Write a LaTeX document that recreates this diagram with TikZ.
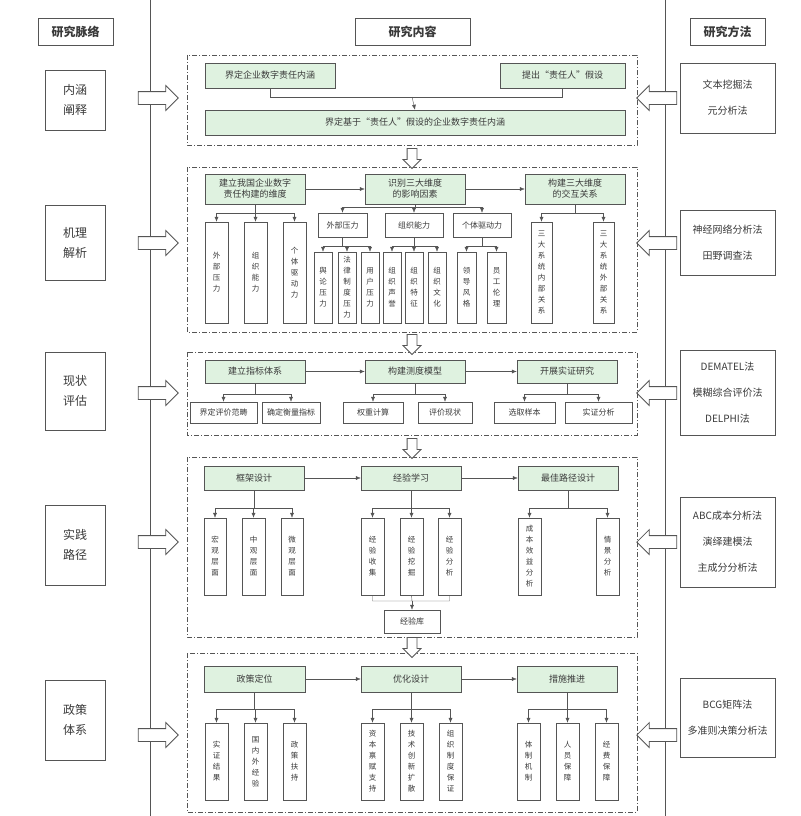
\documentclass[tikz,border=0pt]{standalone}
\usepackage{fontspec}
\setmainfont{Noto Sans CJK SC}
\usetikzlibrary{shapes.arrows,calc,arrows.meta}
\XeTeXlinebreaklocale "zh"
\XeTeXlinebreakskip=0pt plus 1pt
\definecolor{gfill}{HTML}{DFF2E0}
\definecolor{ln}{HTML}{555555}
\definecolor{tx}{HTML}{3A3A3A}
\newcommand\bx[7][]{\node[#1,minimum width={(#5-#3)*1pt},minimum height={(#6-#4)*1pt}] (#2) at ({(#3+#5)/2},{(#4+#6)/2}) {#7};}
\begin{document}
\begin{tikzpicture}[x=1pt,y=-1pt,
  every node/.style={text=tx},
  top/.style={draw=ln,fill=gfill,inner sep=1pt,align=center,font=\fontsize{9}{11}\selectfont},
  mid/.style={draw=ln,fill=white,inner sep=1pt,align=center,font=\fontsize{8}{10}\selectfont},
  leaf/.style={draw=ln,fill=white,inner sep=0pt,text width=8pt,align=center,font=\fontsize{7.5}{11}\selectfont},
  side/.style={draw=ln,fill=white,thick,align=center,font=\fontsize{12}{20}\selectfont},
  meth/.style={draw=ln,fill=white,thick,align=center,font=\fontsize{10}{26}\selectfont},
  head/.style={draw=ln,fill=white,thick,font=\bfseries\fontsize{12}{14}\selectfont},
  sec/.style={draw=ln,dash pattern=on 5pt off 2pt on 1pt off 2pt},
  arr/.style={draw=ln,-{Latex[length=5pt,width=4pt]}},
  ha/.style={single arrow,draw=ln,fill=white,thick,minimum height=40pt,inner sep=6pt,single arrow head extend=6pt,single arrow tip angle=90},
  da/.style={single arrow,draw=ln,fill=white,thick,minimum height=20pt,inner sep=4.5pt,single arrow head extend=4pt,single arrow tip angle=90,shape border rotate=270},
]
\useasboundingbox (0,0) rectangle (800,816);
\draw[ln,thick] (150,0) -- (150,816) (665,0) -- (665,816);
% headers
\bx[head]{h1}{38}{18}{113}{45}{研究脉络}
\bx[head]{h2}{355}{18}{470}{45}{研究内容}
\bx[head]{h3}{690}{18}{765}{45}{研究方法}
% left
\bx[side]{s1}{45}{70}{105}{130}{内涵\\阐释}
\bx[side]{s2}{45}{205}{105}{280}{机理\\解析}
\bx[side]{s3}{45}{352}{105}{430}{现状\\评估}
\bx[side]{s4}{45}{505}{105}{585}{实践\\路径}
\bx[side]{s5}{45}{680}{105}{760}{政策\\体系}
% right
\bx[meth]{m1}{680}{63}{775}{133}{文本挖掘法\\元分析法}
\bx[meth]{m2}{680}{210}{775}{275}{神经网络分析法\\田野调查法}
\bx[meth]{m3}{680}{350}{775}{435}{DEMATEL法\\模糊综合评价法\\DELPHI法}
\bx[meth]{m4}{680}{497}{775}{587}{ABC成本分析法\\演绎建模法\\主成分分析法}
\bx[meth]{m5}{680}{678}{775}{757}{BCG矩阵法\\多准则决策分析法}
% side arrows
\foreach \y/\n in {98/1,243/2,393/3,542/4,735/5}{
 \node[ha] (la\n) at (155,\y) {};
 \node[ha,shape border rotate=180] (ra\n) at (660,\y) {};
}
% sections
\draw[sec] (187,55) rectangle (637,145);
\draw[sec] (187,167) rectangle (637,332);
\draw[sec] (187,352) rectangle (637,435);
\draw[sec] (187,457) rectangle (637,637);
\draw[sec] (187,653) rectangle (637,812);
\foreach \y/\n in {156/1,342/2,446/3,645/4}{\node[da] (dn\n) at (412,\y) {};}
% section 1
\bx[top]{a1}{205}{63}{335}{88}{界定企业数字责任内涵}
\bx[top]{a2}{500}{63}{625}{88}{提出“责任人”假设}
\bx[top]{a3}{205}{110}{625}{135}{界定基于“责任人”假设的企业数字责任内涵}
\coordinate (j1) at (412,97);
\draw[ln] (a1.south) |- (j1) (a2.south) |- (j1);
\draw[arr] (j1) -- (a3.north);
% section 2
\bx[top]{b1}{205}{174}{305}{204}{建立我国企业数字\\责任构建的维度}
\bx[top]{b2}{365}{174}{465}{204}{识别三大维度\\的影响因素}
\bx[top]{b3}{525}{174}{625}{204}{构建三大维度\\的交互关系}
\draw[arr] (b1) -- (b2); \draw[arr] (b2) -- (b3);
\bx[leaf]{c1}{205}{222}{228}{323}{外部压力}
\bx[leaf]{c2}{244}{222}{267}{323}{组织能力}
\bx[leaf]{c3}{283}{222}{306}{323}{个体驱动力}
\foreach \c in {c1,c2,c3}{\draw[arr] (b1.south) |- ([yshift=9pt]\c.north) -- (\c.north);}
\bx[mid]{d1}{318}{213}{367}{237}{外部压力}
\bx[mid]{d2}{385}{213}{443}{237}{组织能力}
\bx[mid]{d3}{453}{213}{511}{237}{个体驱动力}
\foreach \c in {d1,d2,d3}{\draw[arr] (b2.south) |- ([yshift=6pt]\c.north) -- (\c.north);}
\bx[leaf]{e1}{314}{252}{332}{323}{舆论压力}
\bx[leaf]{e2}{338}{252}{356}{323}{法律制度压力}
\bx[leaf]{e3}{361}{252}{379}{323}{用户压力}
\bx[leaf]{e4}{383}{252}{401}{323}{组织声誉}
\bx[leaf]{e5}{405}{252}{423}{323}{组织特征}
\bx[leaf]{e6}{428}{252}{446}{323}{组织文化}
\bx[leaf]{e7}{457}{252}{476}{323}{领导风格}
\bx[leaf]{e8}{487}{252}{506}{323}{员工伦理}
\foreach \c in {e1,e2,e3}{\draw[arr] (d1.south) |- ([yshift=6pt]\c.north) -- (\c.north);}
\foreach \c in {e4,e5,e6}{\draw[arr] (d2.south) |- ([yshift=6pt]\c.north) -- (\c.north);}
\foreach \c in {e7,e8}{\draw[arr] (d3.south) |- ([yshift=6pt]\c.north) -- (\c.north);}
\bx[leaf]{f1}{531}{222}{552}{323}{三大系统内部关系}
\bx[leaf]{f2}{593}{222}{614}{323}{三大系统外部关系}
\foreach \c in {f1,f2}{\draw[arr] (b3.south) |- ([yshift=9pt]\c.north) -- (\c.north);}
% section 3
\bx[top]{g1}{205}{360}{305}{383}{建立指标体系}
\bx[top]{g2}{365}{360}{465}{383}{构建测度模型}
\bx[top]{g3}{517}{360}{617}{383}{开展实证研究}
\draw[arr] (g1) -- (g2); \draw[arr] (g2) -- (g3);
\bx[mid]{k1}{190}{402}{257}{423}{界定评价范畴}
\bx[mid]{k2}{262}{402}{320}{423}{确定衡量指标}
\bx[mid]{k3}{343}{402}{403}{423}{权重计算}
\bx[mid]{k4}{418}{402}{472}{423}{评价现状}
\bx[mid]{k5}{494}{402}{555}{423}{选取样本}
\bx[mid]{k6}{565}{402}{632}{423}{实证分析}
\foreach \c in {k1,k2}{\draw[arr] (g1.south) |- ([yshift=8pt]\c.north) -- (\c.north);}
\foreach \c in {k3,k4}{\draw[arr] (g2.south) |- ([yshift=8pt]\c.north) -- (\c.north);}
\foreach \c in {k5,k6}{\draw[arr] (g3.south) |- ([yshift=8pt]\c.north) -- (\c.north);}
% section 4
\bx[top]{p1}{204}{466}{304}{490}{框架设计}
\bx[top]{p2}{361}{466}{461}{490}{经验学习}
\bx[top]{p3}{518}{466}{618}{490}{最佳路径设计}
\draw[arr] (p1) -- (p2); \draw[arr] (p2) -- (p3);
\bx[leaf]{q1}{204}{518}{226}{595}{宏观层面}
\bx[leaf]{q2}{242}{518}{265}{595}{中观层面}
\bx[leaf]{q3}{281}{518}{303}{595}{微观层面}
\bx[leaf]{q4}{361}{518}{384}{595}{经验收集}
\bx[leaf]{q5}{400}{518}{423}{595}{经验挖掘}
\bx[leaf]{q6}{438}{518}{461}{595}{经验分析}
\bx[leaf]{q7}{518}{518}{541}{595}{成本效益分析}
\bx[leaf]{q8}{596}{518}{619}{595}{情景分析}
\foreach \c in {q1,q2,q3}{\draw[arr] (p1.south) |- ([yshift=10pt]\c.north) -- (\c.north);}
\foreach \c in {q4,q5,q6}{\draw[arr] (p2.south) |- ([yshift=10pt]\c.north) -- (\c.north);}
\foreach \c in {q7,q8}{\draw[arr] (p3.south) |- ([yshift=10pt]\c.north) -- (\c.north);}
\bx[mid]{kb}{384}{610}{440}{633}{经验库}
\coordinate (j4) at (412,601);
\draw[ln] (q4.south) |- (j4) (q6.south) |- (j4) (q5.south) -- (j4);
\draw[arr] (j4) -- (kb.north);
% section 5
\bx[top]{r1}{204}{666}{305}{692}{政策定位}
\bx[top]{r2}{361}{666}{461}{692}{优化设计}
\bx[top]{r3}{517}{666}{617}{692}{措施推进}
\draw[arr] (r1) -- (r2); \draw[arr] (r2) -- (r3);
\bx[leaf]{t1}{205}{723}{228}{800}{实证结果}
\bx[leaf]{t2}{244}{723}{267}{800}{国内外经验}
\bx[leaf]{t3}{283}{723}{306}{800}{政策扶持}
\bx[leaf]{t4}{361}{723}{384}{800}{资本禀赋支持}
\bx[leaf]{t5}{400}{723}{423}{800}{技术创新扩散}
\bx[leaf]{t6}{439}{723}{462}{800}{组织制度保证}
\bx[leaf]{t7}{517}{723}{540}{800}{体制机制}
\bx[leaf]{t8}{556}{723}{579}{800}{人员保障}
\bx[leaf]{t9}{595}{723}{618}{800}{经费保障}
\foreach \c in {t1,t2,t3}{\draw[arr] (r1.south) |- ([yshift=14pt]\c.north) -- (\c.north);}
\foreach \c in {t4,t5,t6}{\draw[arr] (r2.south) |- ([yshift=14pt]\c.north) -- (\c.north);}
\foreach \c in {t7,t8,t9}{\draw[arr] (r3.south) |- ([yshift=14pt]\c.north) -- (\c.north);}
\end{tikzpicture}
\end{document}
